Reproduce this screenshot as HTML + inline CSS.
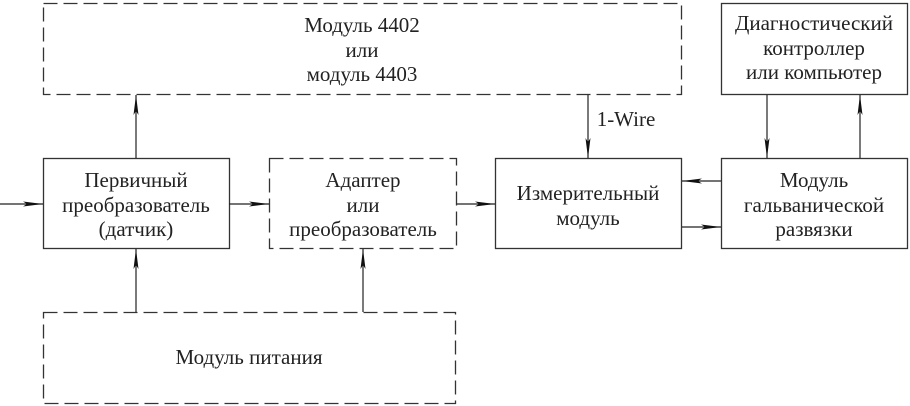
<!DOCTYPE html>
<html><head><meta charset="utf-8"><style>
html,body{margin:0;padding:0;background:#fff;}
#w{position:relative;width:910px;height:406px;overflow:hidden;}
svg{display:block;position:absolute;left:0;top:0;}
.t{position:absolute;font-family:"Liberation Serif","Times New Roman",Times,serif;font-size:21px;line-height:24.5px;color:#222;text-align:center;white-space:nowrap;}
</style></head><body>
<div id="w">
<svg width="910" height="406" viewBox="0 0 910 406" xmlns="http://www.w3.org/2000/svg">
<defs>
<marker id="a" viewBox="0 0 20 6" refX="20" refY="3" markerWidth="20" markerHeight="6" markerUnits="userSpaceOnUse" orient="auto">
<path d="M0,0.5 L20,3 L0,5.5 L4,3 Z" fill="#111"/>
</marker>
</defs>
<g fill="none" stroke="#333" stroke-width="1.3">
<rect x="43.5" y="3.5" width="638" height="91" stroke-dasharray="14,6"/>
<rect x="721.5" y="3.5" width="186" height="91"/>
<rect x="43.5" y="158.5" width="186" height="90"/>
<rect x="269.5" y="158.5" width="187" height="90" stroke-dasharray="14,6"/>
<rect x="495.5" y="158.5" width="186" height="90"/>
<rect x="721.5" y="158.5" width="186" height="90"/>
<rect x="43.5" y="312.5" width="412" height="91" stroke-dasharray="14,6"/>
</g>
<g stroke="#222" stroke-width="1.2" marker-end="url(#a)">
<line x1="0" y1="204" x2="43" y2="204"/>
<line x1="229" y1="204" x2="269" y2="204"/>
<line x1="457" y1="204" x2="495" y2="204"/>
<line x1="136" y1="158" x2="136" y2="95"/>
<line x1="588" y1="95" x2="588" y2="158"/>
<line x1="767" y1="95" x2="767" y2="158"/>
<line x1="860" y1="158" x2="860" y2="95"/>
<line x1="721" y1="181" x2="682" y2="181"/>
<line x1="682" y1="227" x2="721" y2="227"/>
<line x1="136" y1="312" x2="136" y2="249"/>
<line x1="363" y1="312" x2="363" y2="249"/>
</g>
</svg>
<div class="t" style="left:262px;top:13px;width:200px">Модуль 4402<br>или<br>модуль 4403</div>
<div class="t" style="left:714px;top:11px;width:200px">Диагностический<br>контроллер<br>или компьютер</div>
<div class="t" style="left:36px;top:168px;width:200px">Первичный<br>преобразователь<br>(датчик)</div>
<div class="t" style="left:263px;top:168px;width:200px">Адаптер<br>или<br>преобразователь</div>
<div class="t" style="left:488px;top:181px;width:200px">Измерительный<br>модуль</div>
<div class="t" style="left:714px;top:168px;width:200px">Модуль<br>гальванической<br>развязки</div>
<div class="t" style="left:149px;top:345px;width:200px">Модуль питания</div>
<div class="t" style="left:594px;top:107px;width:64px">1-Wire</div>
</div>
</body></html>
